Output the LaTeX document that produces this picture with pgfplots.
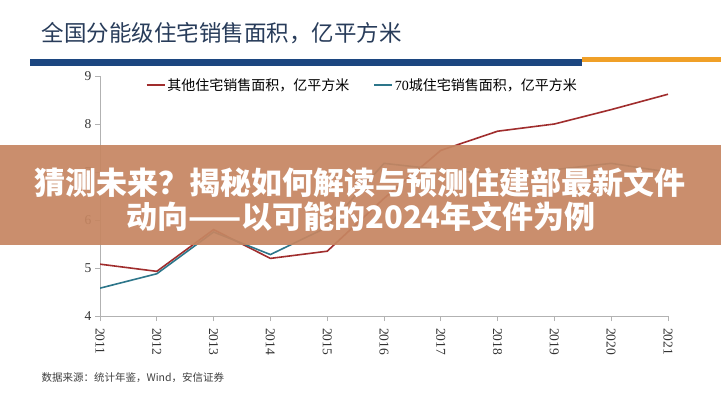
\documentclass[border=0pt]{standalone}
\usepackage{pgfplots}
\pgfplotsset{compat=1.18}
\usepackage{fontspec}
\setmainfont{Liberation Serif}
\newfontfamily\cjk{Noto Sans CJK SC}

\definecolor{otherred}{RGB}{160,45,45}
\definecolor{cityteal}{RGB}{45,118,138}
\definecolor{titleblue}{RGB}{40,60,90}
\definecolor{barblue}{RGB}{28,70,128}
\definecolor{barorange}{RGB}{240,160,40}
\definecolor{banner}{RGB}{198,134,98}

\pgfplotstableread{
year other city
2011 5.08 4.58
2012 4.93 4.88
2013 5.80 5.75
2014 5.20 5.28
2015 5.35 5.85
2016 6.45 7.18
2017 7.45 7.05
2018 7.85 6.95
2019 8.00 7.05
2020 8.30 7.18
2021 8.62 7.00
}\salesdata

\begin{document}
\begin{tikzpicture}
\path[use as bounding box,fill=white] (0pt,0pt) rectangle (721pt,400pt);

% title and bars
\node[anchor=west,text=titleblue,font=\cjk\fontsize{22.5}{22.5}\selectfont] at (38pt,367pt) {全国分能级住宅销售面积，亿平方米};
\fill[barblue] (30pt,334pt) rectangle (582pt,341pt);
\fill[barorange] (582pt,338pt) rectangle (721pt,343pt);

\begin{axis}[
  at={(100pt,84pt)}, anchor=south west,
  scale only axis, width=568pt, height=240pt,
  xmin=2011, xmax=2021, ymin=4, ymax=9,
  xtick={2011,2012,...,2021}, ytick={4,5,...,9},
  axis x line*=bottom, axis y line*=left,
  axis line style={gray!60, line width=0.8pt},
  tick style={gray!60, line width=0.8pt},
  tick align=outside, major tick length=5pt,
  /pgf/number format/assume math mode=true,
  /pgf/number format/1000 sep={},
  ticklabel style={font=\fontsize{13.5}{13.5}\selectfont, text=black!80},
  x tick label style={rotate=-90, anchor=west, inner xsep=7pt},
  legend style={at={(0.075,0.9625)}, anchor=west, draw=none, fill=none,
    legend columns=2, font=\cjk\fontsize{14}{14}\selectfont,
    /tikz/every even column/.append style={column sep=22pt}},
  legend image code/.code={\draw[#1] (0pt,0pt) -- (18pt,0pt);},
]
\addplot[otherred, line width=1.6pt] table[x=year, y=other] {\salesdata};
\addlegendentry{其他住宅销售面积，亿平方米}
\addplot[cityteal, line width=1.6pt] table[x=year, y=city] {\salesdata};
\addlegendentry{{\rmfamily 70}城住宅销售面积，亿平方米}
\end{axis}

% overlay banner
\fill[banner, opacity=0.93] (0pt,155pt) rectangle (721pt,255pt);
\node[text=white, font=\cjk\bfseries\fontsize{31}{31}\selectfont] at (360pt,217pt) {猜测未来？揭秘如何解读与预测住建部最新文件};
\node[text=white, font=\cjk\bfseries\fontsize{31}{31}\selectfont] at (361pt,183pt) {动向——以可能的2024年文件为例};

% source
\node[anchor=west, text=black!75, font=\cjk\fontsize{10.5}{10.5}\selectfont] at (38pt,22pt) {数据来源：统计年鉴，Wind，安信证券};
\end{tikzpicture}
\end{document}
